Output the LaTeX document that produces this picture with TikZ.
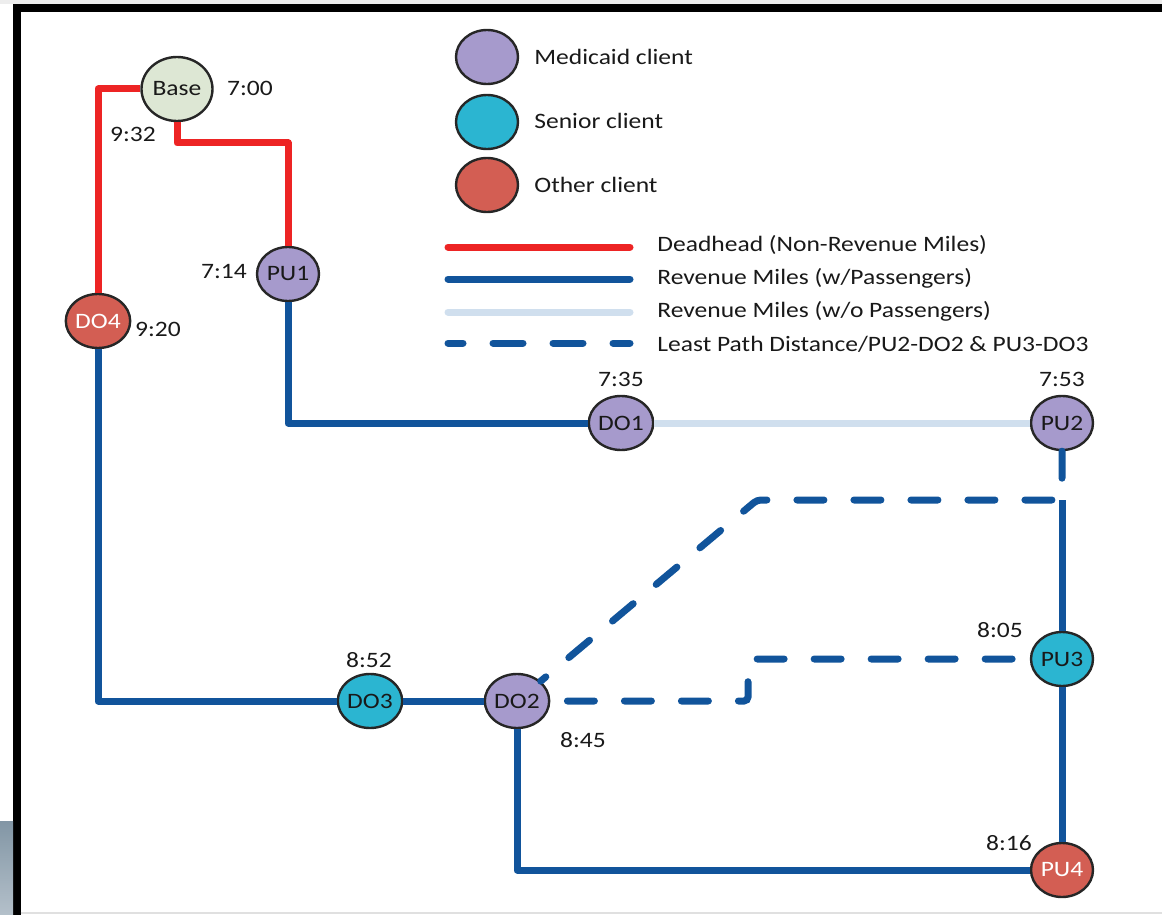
\documentclass[tikz,border=0pt]{standalone}
\usepackage{fontspec}
\setmainfont{Carlito}[FakeStretch=1.16]
\usepackage{xcolor}
\usepackage{tikz}
\usetikzlibrary{shapes.geometric}
\definecolor{medicaid}{RGB}{166,154,204}
\definecolor{senior}{RGB}{43,181,209}
\definecolor{otherc}{RGB}{211,94,83}
\definecolor{basegreen}{RGB}{221,231,212}
\definecolor{deadred}{RGB}{237,36,36}
\definecolor{revblue}{RGB}{17,84,155}
\definecolor{emptyblue}{RGB}{208,223,238}
\tikzset{every node/.append style={font=\fontsize{11}{13}\selectfont}}
\tikzset{
  tripstop/.style={ellipse, draw=black!85, line width=1.2pt, minimum width=31pt, minimum height=27pt, inner sep=0pt, text=black!90},
  stime/.style={inner sep=0pt, text=black!90},
  legtext/.style={anchor=west, inner sep=0pt, text=black!90},
  deadhead/.style={draw=deadred, line width=3.5pt, line join=round},
  revenue/.style={draw=revblue, line width=3.5pt, line join=round},
  nopass/.style={draw=emptyblue, line width=3.5pt},
  leastpath/.style={draw=revblue, line width=3.5pt, line cap=round, rounded corners=2pt, dash pattern=on 13.5pt off 15pt}
}

\begin{document}
\begin{tikzpicture}[x=0.5pt, y=-0.5pt]
    \useasboundingbox (0,0) rectangle (1162,915);
    % screen frame
    \fill[black!7] (0,0) rectangle (1162,4);
    \fill[black] (13,4) rectangle (1162,12.5);
    \fill[black] (13,4) rectangle (20.5,915);
    \shade[top color={rgb,255:red,130;green,150;blue,165}, bottom color={rgb,255:red,180;green,192;blue,202}] (0,821) rectangle (13,915);
    \draw[black!12, line width=1pt] (20.5,913) -- (1162,913);

    % legend
    \node[tripstop, fill=medicaid] (legmed) at (487,57) {};
    \node[legtext] (txtmed) at (534,57) {Medicaid client};
    \node[tripstop, fill=senior] (legsen) at (487,122) {};
    \node[legtext] (txtsen) at (534,121) {Senior client};
    \node[tripstop, fill=otherc] (legoth) at (487,185) {};
    \node[legtext] (txtoth) at (534,185) {Other client};
    \coordinate (ld1) at (448,247); \coordinate (ld2) at (630,247);
    \coordinate (lr1) at (448,279); \coordinate (lr2) at (630,279);
    \coordinate (le1) at (448,312); \coordinate (le2) at (630,312);
    \coordinate (ll1) at (448,343); \coordinate (ll2) at (630,343);
    \draw[deadhead, line cap=round] (ld1) -- (ld2);
    \draw[revenue, line cap=round] (lr1) -- (lr2);
    \draw[nopass, line cap=round] (le1) -- (le2);
    \draw[revenue, line cap=round, dash pattern=on 15pt off 15pt, dash phase=7.5pt] (ll1) -- (ll2);
    \node[legtext] (txtdh) at (657,245) {Deadhead (Non-Revenue Miles)};
    \node[legtext] (txtrw) at (657,278) {Revenue Miles (w/Passengers)};
    \node[legtext] (txtro) at (657,311) {Revenue Miles (w/o Passengers)};
    \node[legtext] (txtlp) at (657,344) {Least Path Distance/PU2-DO2 \& PU3-DO3};

    % stops
    \node[tripstop, fill=basegreen, minimum width=35.5pt, minimum height=32pt] (Base) at (177,89) {Base};
    \node[tripstop, fill=medicaid] (PU1) at (288,274) {PU1};
    \node[tripstop, fill=otherc, text=white] (DO4) at (98,321) {DO4};
    \node[tripstop, fill=medicaid] (DO1) at (621,423) {DO1};
    \node[tripstop, fill=medicaid] (PU2) at (1062,423) {PU2};
    \node[tripstop, fill=senior] (DO3) at (370,701) {DO3};
    \node[tripstop, fill=medicaid] (DO2) at (517,701) {DO2};
    \node[tripstop, fill=senior] (PU3) at (1062,659) {PU3};
    \node[tripstop, fill=otherc, text=white] (PU4) at (1062,870) {PU4};

    % times
    \node[stime] (t700) at (250,88) {7:00};
    \node[stime] (t932) at (133,134) {9:32};
    \node[stime] (t714) at (224,272) {7:14};
    \node[stime] (t920) at (158,329) {9:20};
    \node[stime] (t735) at (621,379) {7:35};
    \node[stime] (t753) at (1062,379) {7:53};
    \node[stime] (t852) at (369,660) {8:52};
    \node[stime] (t845) at (583,740) {8:45};
    \node[stime] (t805) at (1000,630) {8:05};
    \node[stime] (t816) at (1009,843) {8:16};

    % route
    \coordinate (bd) at (177,143);
    \coordinate (jn) at (1062,500);
    \coordinate (kn) at (757,500);
    \coordinate (st1) at (748,701);
    \draw[deadhead] (Base) -| (DO4);
    \draw[deadhead] (Base) -- (bd) -| (PU1);
    \draw[revenue] (DO4) |- (DO3);
    \draw[revenue] (DO3) -- (DO2);
    \draw[revenue] (PU1) |- (DO1);
    \draw[nopass] (DO1) -- (PU2);
    \draw[revenue] (DO2) |- (PU4);
    \draw[revenue] (PU4) -- (PU3);
    \draw[revenue] (PU3) -- (jn);
    \draw[leastpath] (PU2) -- (jn) -- (kn) -- (DO2);
    \draw[leastpath, dash phase=20pt] (DO2) -- (st1) |- (PU3);
\end{tikzpicture}
\end{document}
